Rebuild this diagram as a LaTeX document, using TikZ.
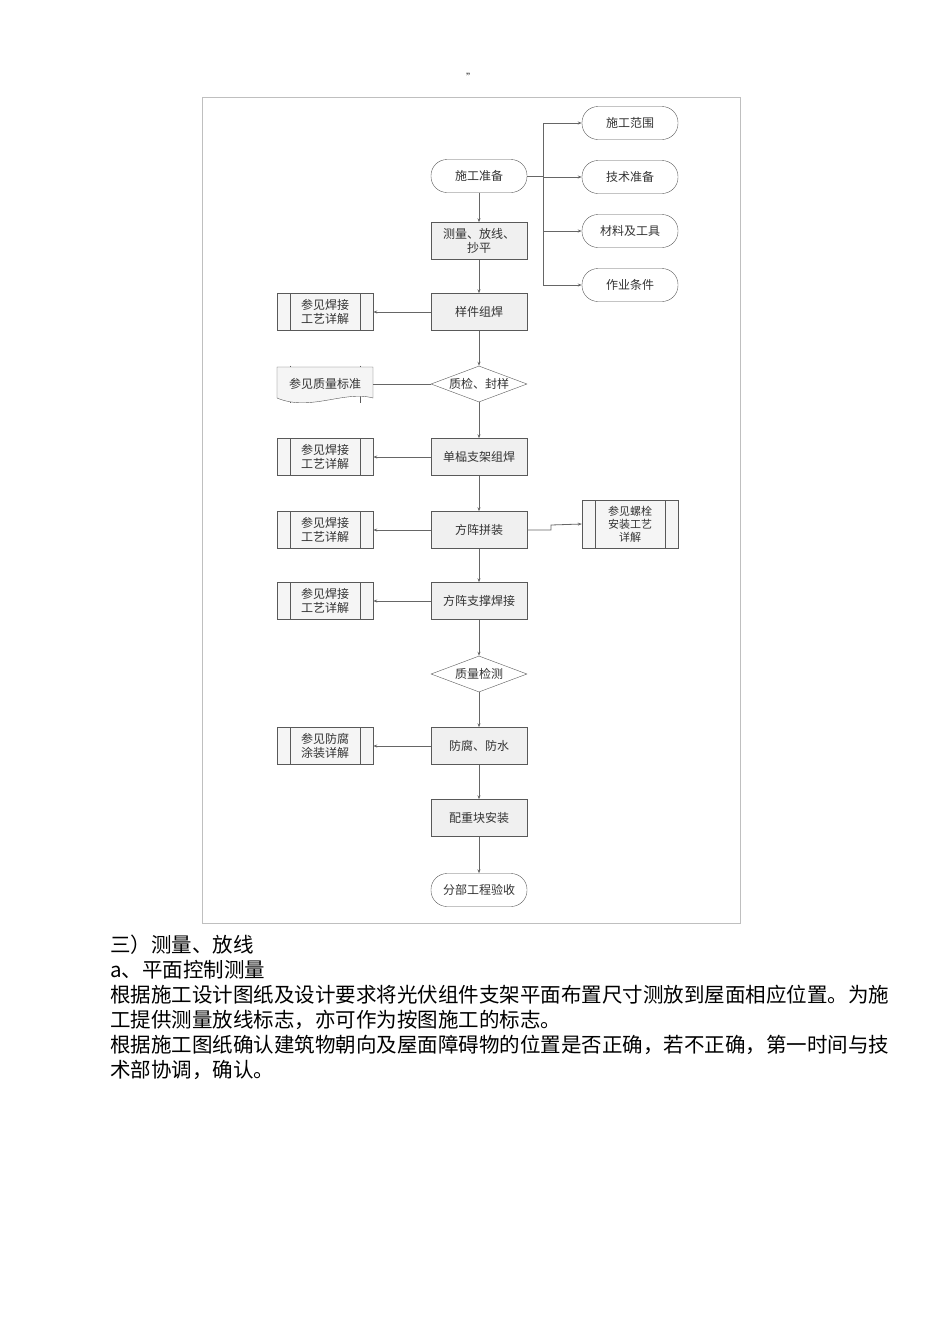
\documentclass[tikz,border=0pt]{standalone}
\usepackage{fontspec}
\setmainfont{Noto Sans CJK SC}
\usetikzlibrary{shapes.geometric,arrows.meta}
\begin{document}
\begin{tikzpicture}[x=1pt,y=-1pt,
  every node/.style={font=\fontsize{12}{14}\selectfont, text=black!80},
  proc/.style={draw=black!65,fill=black!6,minimum width=96pt,minimum height=37pt,inner sep=1pt,align=center},
  term/.style={draw=black!65,fill=white,rounded corners=16pt,minimum width=96pt,minimum height=33pt,inner sep=1pt},
  dec/.style={draw=black!65,fill=white,diamond,aspect=2.6,minimum width=96pt,minimum height=36pt,inner sep=0pt},
  pre/.style={proc,fill=black!4,path picture={\draw[black!65]([xshift=13pt]path picture bounding box.north west)--([xshift=13pt]path picture bounding box.south west);\draw[black!65]([xshift=-13pt]path picture bounding box.north east)--([xshift=-13pt]path picture bounding box.south east);}},
  ln/.style={draw=black!60,line width=0.8pt},
  arr/.style={ln,-{Stealth[length=4pt,width=3pt]}},
  body/.style={font=\fontsize{20.5}{24}\selectfont,text=black,anchor=west,inner sep=0pt}]
\useasboundingbox (0,0) rectangle (950,1344);
\node[inner sep=0pt,font=\fontsize{10}{10}\selectfont] (q) at (471,77) {"};
\draw[black!25] (202,97) rectangle (740,923);
% main
\node[term] (a) at (479,176) {施工准备};
\node[proc] (b) at (479,241) {测量、放线、\\抄平};
\node[proc] (c) at (479,312) {样件组焊};
\node[dec] (d) at (479,384) {质检、封样};
\node[proc] (e) at (479,457) {单榀支架组焊};
\node[proc] (f) at (479,530) {方阵拼装};
\node[proc] (g) at (479,601) {方阵支撑焊接};
\node[dec] (h) at (479,674) {质量检测};
\node[proc] (i) at (479,746) {防腐、防水};
\node[proc] (j) at (479,818) {配重块安装};
\node[term] (k) at (479,890) {分部工程验收};
% right
\node[term] (r1) at (630,123) {施工范围};
\node[term] (r2) at (630,177) {技术准备};
\node[term] (r3) at (630,231) {材料及工具};
\node[term] (r4) at (630,285) {作业条件};
\node[pre,minimum height=48pt,font=\fontsize{11}{13}\selectfont] (r5) at (630,524) {参见螺栓\\安装工艺\\详解};
% left
\node[pre] (l1) at (325,312) {参见焊接\\工艺详解};
\node[pre,draw=none,fill=none] (l2) at (325,384) {参见质量标准};
\draw[black!65,fill=black!4] (277,367) -- (373,367) -- (373,398) .. controls (345,390) and (310,412) .. (277,398) -- cycle;
\node at (325,384) {参见质量标准};
\node[pre] (l3) at (325,457) {参见焊接\\工艺详解};
\node[pre] (l4) at (325,530) {参见焊接\\工艺详解};
\node[pre] (l5) at (325,601) {参见焊接\\工艺详解};
\node[pre] (l6) at (325,746) {参见防腐\\涂装详解};
% main arrows
\foreach \u/\v in {a/b,b/c,c/d,d/e,e/f,f/g,g/h,h/i,i/j,j/k} \draw[arr] (\u) -- (\v);
\foreach \u/\v in {c/l1,e/l3,f/l4,g/l5,i/l6} \draw[arr] (\u) -- (\v);
\draw[ln] (d.west) -- (373,384);
\coordinate (br) at (543,176);
\draw[ln] (a.east) -- (br);
\draw[ln] (543,123) -- (543,285);
\foreach \r in {r1,r2,r3,r4} \draw[arr] (543,0 |- \r) -- (\r.west);
\draw[arr] (f.east) -- (551,530) -- (551,525) -- (r5.west);
% text
\node[body] (t1) at (110,945) {三）测量、放线};
\node[body] (t2) at (110,970) {a、平面控制测量};
\node[body] (t3) at (110,995) {根据施工设计图纸及设计要求将光伏组件支架平面布置尺寸测放到屋面相应位置。为施};
\node[body] (t4) at (110,1020) {工提供测量放线标志，亦可作为按图施工的标志。};
\node[body] (t5) at (110,1045) {根据施工图纸确认建筑物朝向及屋面障碍物的位置是否正确，若不正确，第一时间与技};
\node[body] (t6) at (110,1070) {术部协调，确认。};
\end{tikzpicture}
\end{document}
